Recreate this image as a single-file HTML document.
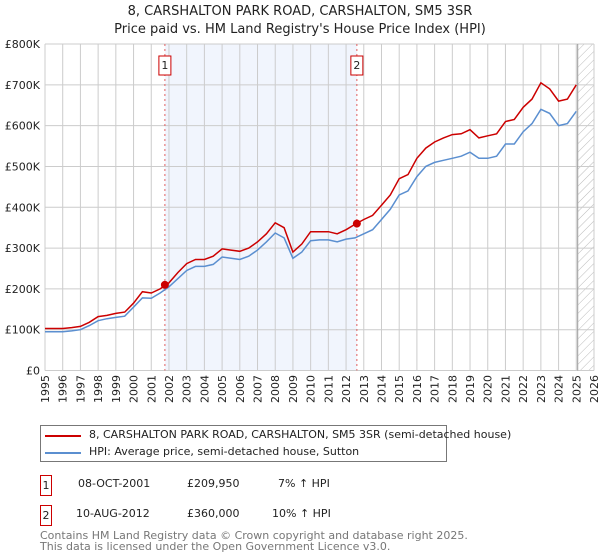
<!DOCTYPE html>
<html><head><meta charset="utf-8"><style>
body{margin:0;background:#fff;font-family:"DejaVu Sans","Liberation Sans",sans-serif;}
#wrap{position:relative;width:600px;height:560px;overflow:hidden;}
</style></head><body>
<div id="wrap">
<svg id="chart" width="600" height="560" xmlns="http://www.w3.org/2000/svg" font-family="DejaVu Sans, Liberation Sans, sans-serif">
<defs><pattern id="hatch" width="6" height="6" patternUnits="userSpaceOnUse" patternTransform="rotate(45)"><line x1="0" y1="0" x2="0" y2="6" stroke="#bbb" stroke-width="1"/></pattern></defs>
<text x="300" y="15" text-anchor="middle" font-size="13" fill="#222">8, CARSHALTON PARK ROAD, CARSHALTON, SM5 3SR</text>
<text x="300" y="33" text-anchor="middle" font-size="13" fill="#222">Price paid vs. HM Land Registry's House Price Index (HPI)</text>
<g id="plot"></g>
</svg>
<div style="position:absolute;left:40px;top:425px;width:405px;height:35px;border:1px solid #777;font-size:11px;color:#222">
 <div style="position:absolute;left:4px;top:9px;width:36px;height:2px;background:#cc0000"></div>
 <div style="position:absolute;left:48px;top:2px;white-space:nowrap">8, CARSHALTON PARK ROAD, CARSHALTON, SM5 3SR (semi-detached house)</div>
 <div style="position:absolute;left:4px;top:26px;width:36px;height:2px;background:#5b8fd0"></div>
 <div style="position:absolute;left:48px;top:19px;white-space:nowrap">HPI: Average price, semi-detached house, Sutton</div>
</div>
<div style="font-size:11px;color:#222">
 <div style="position:absolute;left:40px;top:475px;width:10px;height:19px;border:1px solid #cc0000;text-align:center;line-height:19px">1</div>
 <div style="position:absolute;left:78px;top:477px">08-OCT-2001</div>
 <div style="position:absolute;left:187px;top:477px">£209,950</div>
 <div style="position:absolute;left:278px;top:477px">7% ↑ HPI</div>
 <div style="position:absolute;left:40px;top:505px;width:10px;height:19px;border:1px solid #cc0000;text-align:center;line-height:19px">2</div>
 <div style="position:absolute;left:76px;top:507px">10-AUG-2012</div>
 <div style="position:absolute;left:187px;top:507px">£360,000</div>
 <div style="position:absolute;left:272px;top:507px">10% ↑ HPI</div>
</div>
<div style="position:absolute;left:40px;top:530px;font-size:11px;color:#777;line-height:11px">Contains HM Land Registry data © Crown copyright and database right 2025.<br>This data is licensed under the Open Government Licence v3.0.</div>
</div>
<script>
const years=[1995,1996,1996.5,1997,1997.5,1998,1998.5,1999,1999.5,2000,2000.5,2001,2001.5,2002,2002.5,2003,2003.5,2004,2004.5,2005,2005.5,2006,2006.5,2007,2007.5,2008,2008.5,2009,2009.5,2010,2010.5,2011,2011.5,2012,2012.5,2013,2013.5,2014,2014.5,2015,2015.5,2016,2016.5,2017,2017.5,2018,2018.5,2019,2019.5,2020,2020.5,2021,2021.5,2022,2022.5,2023,2023.5,2024,2024.5,2025];
const hpi=[95,95,97,100,110,122,127,130,133,155,178,177,190,205,225,245,255,255,260,278,275,272,280,295,315,337,325,275,290,318,320,320,315,322,325,335,345,370,395,430,440,475,500,510,515,520,525,535,520,520,525,555,555,585,605,640,630,600,605,635];
const price=[103,103,105,108,118,132,135,140,143,165,193,190,200,215,240,262,272,272,280,298,295,292,300,315,335,362,350,290,310,340,340,340,335,345,358,370,380,405,430,470,480,520,545,560,570,578,580,590,570,575,580,610,615,645,665,705,690,660,665,700];
const saleYears=[2001.77,2012.61];
const saleValues=[209.95,360];
const saleLabels=["1","2"];
const yTicks=[0,100,200,300,400,500,600,700,800];
const yTickLabels=["£0","£100K","£200K","£300K","£400K","£500K","£600K","£700K","£800K"];
const xStart=1995,xEnd=2026,dataEnd=2025.08;

const L=45,R=594,T=44,B=370.5;
const NS="http://www.w3.org/2000/svg";
function xs(y){return L+(y-xStart)/(xEnd-xStart)*(R-L);}
function ys(v){return B-v/800*(B-T);}
const g=document.getElementById('plot');
function mk(tag,attrs){const e=document.createElementNS(NS,tag);for(const k in attrs)e.setAttribute(k,attrs[k]);g.appendChild(e);return e;}
let e;
e=mk('rect',{x:xs(saleYears[0]),y:T,width:xs(saleYears[1])-xs(saleYears[0]),height:B-T,fill:'#eef3fc',opacity:0.8});


e=mk('rect',{x:xs(dataEnd),y:T,width:R-xs(dataEnd),height:B-T,fill:'url(#hatch)'});


for(let yr=xStart;yr<=xEnd;yr++){
  e=mk('line',{x1:xs(yr),x2:xs(yr),y1:T,y2:B,stroke:'#ccc','stroke-width':1});
  
  
  const tx=(xs(yr)+4).toFixed(1);
  e=mk('text',{x:tx,y:375,transform:'rotate(-90 '+tx+' 375)','text-anchor':'end','font-size':11,fill:'#222'});
  e.textContent=yr;
  
  
}
yTicks.forEach((v,i)=>{
  e=mk('line',{x1:L,x2:R,y1:ys(v),y2:ys(v),stroke:'#ccc','stroke-width':1});
  
  
  e=mk('text',{x:L-5,y:ys(v)+4,'text-anchor':'end','font-size':11,fill:'#222'});
  e.textContent=yTickLabels[i];
  
  
});
e=mk('line',{x1:xs(dataEnd),x2:xs(dataEnd),y1:T,y2:B,stroke:'#999','stroke-width':1});


saleYears.forEach((sy,i)=>{
  e=mk('line',{x1:xs(sy),x2:xs(sy),y1:T,y2:B,stroke:'#e06060','stroke-width':1,'stroke-dasharray':'2,3'});
  
  
  e=mk('rect',{x:xs(sy)-6,y:56,width:12,height:19,fill:'#fff',stroke:'#cc0000'});
  
  
  e=mk('text',{x:xs(sy),y:69,'text-anchor':'middle','font-size':11,fill:'#222'});
  e.textContent=saleLabels[i];
  
  
});
function path(arr){return arr.map((v,i)=>(i?'L':'M')+xs(years[i]).toFixed(1)+','+ys(v).toFixed(1)).join('');}
e=mk('path',{d:path(hpi),fill:'none',stroke:'#5b8fd0','stroke-width':1.5});


e=mk('path',{d:path(price),fill:'none',stroke:'#cc0000','stroke-width':1.5});


saleYears.forEach((sy,i)=>{
  e=mk('circle',{cx:xs(sy),cy:ys(saleValues[i]),r:4,fill:'#cc0000'});
  
  
});
</script>
</body></html>
